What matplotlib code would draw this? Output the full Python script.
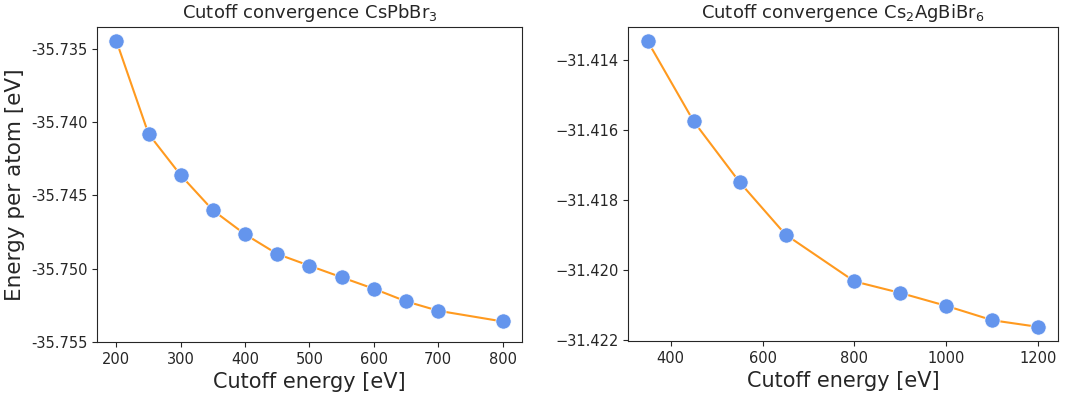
import matplotlib
matplotlib.use("Agg")
import matplotlib.pyplot as plt
from matplotlib.ticker import FormatStrFormatter

# CsPbBr3 cutoff convergence
cut_cspbbr3 = [200, 250, 300, 350, 400, 450, 500, 550, 600, 650, 700, 800]
e_cspbbr3 = [-35.73447, -35.74081, -35.74363, -35.74602, -35.74766, -35.74900,
             -35.74980, -35.75059, -35.75137, -35.75223, -35.75287, -35.75360]

# Cs2AgBiBr6 cutoff convergence
cut_cs2agbibr6 = [350, 450, 550, 650, 800, 900, 1000, 1100, 1200]
e_cs2agbibr6 = [-31.41347, -31.41576, -31.41750, -31.41900, -31.42034,
                -31.42067, -31.42104, -31.42145, -31.42164]

dark = "#262626"
plt.rcParams.update({"text.color": dark, "axes.labelcolor": dark,
                     "xtick.color": dark, "ytick.color": dark,
                     "axes.edgecolor": dark})

fig = plt.figure(figsize=(10.73, 3.94), dpi=100)
ax1 = fig.add_axes([0.0904, 0.132, 0.396, 0.80])
ax2 = fig.add_axes([0.5853, 0.134, 0.4007, 0.798])

for ax, x, y, title in [(ax1, cut_cspbbr3, e_cspbbr3, r"Cutoff convergence CsPbBr$_3$"),
                        (ax2, cut_cs2agbibr6, e_cs2agbibr6, r"Cutoff convergence Cs$_2$AgBiBr$_6$")]:
    ax.plot(x, y, color="#ff9a1f", linewidth=1.5, zorder=1)
    ax.scatter(x, y, s=120, color="cornflowerblue", edgecolor="white",
               linewidth=0.5, zorder=2)
    ax.set_title(title, fontsize=13)
    ax.set_xlabel("Cutoff energy [eV]", fontsize=15)
    ax.tick_params(labelsize=10.5)

ax1.set_ylabel("Energy per atom [eV]", fontsize=15.5)
ax1.set_ylim(bottom=-35.755)
ax1.yaxis.set_major_formatter(FormatStrFormatter("%.3f"))
ax1.set_yticks([-35.735, -35.740, -35.745, -35.750, -35.755])
ax2.set_yticks([-31.414, -31.416, -31.418, -31.420, -31.422])
ax2.set_xticks([400, 600, 800, 1000, 1200])

fig.savefig("out.png", dpi=100)
